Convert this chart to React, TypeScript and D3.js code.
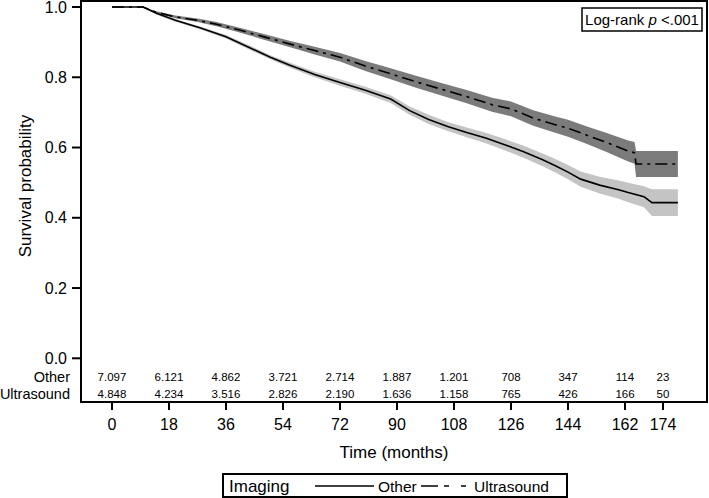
import React from "react";
import * as d3 from "d3";

// ---- data ----
const otherTime = [0, 9.8, 14, 20, 28, 36, 44, 50, 56, 64, 72, 80, 88, 94, 100, 106, 112, 118, 124, 130, 136, 140, 144, 148, 154, 160, 163, 168, 170.5, 178.7];
const otherSurv = [1, 1, 0.982, 0.962, 0.94, 0.915, 0.882, 0.857, 0.835, 0.808, 0.785, 0.763, 0.738, 0.705, 0.68, 0.66, 0.643, 0.627, 0.608, 0.588, 0.565, 0.548, 0.53, 0.51, 0.493, 0.48, 0.472, 0.46, 0.443, 0.443];
const otherLower = [1, 1, 0.979, 0.958, 0.936, 0.91, 0.876, 0.851, 0.828, 0.8, 0.776, 0.753, 0.727, 0.693, 0.667, 0.647, 0.629, 0.612, 0.592, 0.571, 0.547, 0.529, 0.51, 0.488, 0.469, 0.454, 0.444, 0.43, 0.405, 0.405];
const otherUpper = [1, 1, 0.985, 0.966, 0.944, 0.92, 0.888, 0.863, 0.842, 0.816, 0.794, 0.773, 0.749, 0.717, 0.693, 0.673, 0.657, 0.642, 0.624, 0.605, 0.583, 0.567, 0.55, 0.532, 0.517, 0.506, 0.5, 0.49, 0.481, 0.481];

const usTime = [0, 9.8, 14, 20, 27, 33, 40, 48, 56, 64, 72, 80, 88, 96, 104, 112, 120, 126, 133, 140, 144, 150, 156, 163, 165, 165.5, 178.7];
const usSurv = [1, 1, 0.985, 0.972, 0.962, 0.951, 0.935, 0.915, 0.895, 0.876, 0.857, 0.832, 0.81, 0.787, 0.766, 0.745, 0.722, 0.71, 0.684, 0.665, 0.655, 0.635, 0.615, 0.59, 0.585, 0.553, 0.553];
const usLower = [1, 1, 0.982, 0.968, 0.957, 0.945, 0.928, 0.907, 0.886, 0.865, 0.845, 0.818, 0.794, 0.77, 0.748, 0.726, 0.702, 0.689, 0.662, 0.642, 0.631, 0.61, 0.588, 0.56, 0.554, 0.516, 0.516];
const usUpper = [1, 1, 0.988, 0.976, 0.967, 0.957, 0.942, 0.923, 0.904, 0.887, 0.869, 0.846, 0.826, 0.804, 0.784, 0.764, 0.742, 0.731, 0.706, 0.688, 0.679, 0.66, 0.642, 0.62, 0.616, 0.59, 0.59];

const xTicks = [0, 18, 36, 54, 72, 90, 108, 126, 144, 162, 174];
const yTicks = [0, 0.2, 0.4, 0.6, 0.8, 1.0];
const riskOther = ["7.097", "6.121", "4.862", "3.721", "2.714", "1.887", "1.201", "708", "347", "114", "23"];
const riskUltrasound = ["4.848", "4.234", "3.516", "2.826", "2.190", "1.636", "1.158", "765", "426", "166", "50"];
const groupNames = ["Other", "Ultrasound"];

const FONT = "'Liberation Sans', Arial, Helvetica, sans-serif";

export default function App() {
  const x = d3.scaleLinear().domain([0, 174]).range([112, 663]);
  const y = d3.scaleLinear().domain([0, 1]).range([358.3, 7]);

  const mk = (t: number[], s: number[]) => t.map((v, i) => [v, s[i]] as [number, number]);
  const line = d3.line<[number, number]>().x(d => x(d[0])).y(d => y(d[1]));
  const area = (t: number[], lo: number[], hi: number[]) =>
    d3.area<number>().x(i => x(t[i])).y0(i => y(lo[i])).y1(i => y(hi[i]))(t.map((_, i) => i)) || "";

  const fL = 81, fR = 707, fT = 1, fB = 402;

  return (
    <svg width={709} height={498} style={{ position: "absolute", left: 0, top: 0, fontFamily: FONT }}>
      <rect x={0} y={0} width={709} height={498} fill="#fff" />
      {/* CI bands */}
      <path d={area(otherTime, otherLower, otherUpper)} fill="#c4c4c4" />
      <path d={area(usTime, usLower, usUpper)} fill="#7b7b7b" />
      {/* curves */}
      <path d={line(mk(otherTime, otherSurv)) || ""} fill="none" stroke="#000" strokeWidth={1.6} />
      <path d={line(mk(usTime, usSurv)) || ""} fill="none" stroke="#000" strokeWidth={1.6} strokeDasharray="12,5,3,5" />

      {/* frame */}
      <rect x={fL} y={fT} width={fR - fL} height={fB - fT} fill="none" stroke="#000" strokeWidth={2} />

      {/* y axis ticks */}
      {yTicks.map(t => (
        <g key={t}>
          <line x1={72} x2={fL} y1={y(t)} y2={y(t)} stroke="#000" strokeWidth={2} />
          <text x={67} y={y(t)} dy="0.35em" textAnchor="end" fontSize={16}>{t.toFixed(1)}</text>
        </g>
      ))}
      <text transform={`translate(31,${186}) rotate(-90)`} textAnchor="middle" fontSize={17}>Survival probability</text>

      {/* x axis ticks */}
      {xTicks.map(t => (
        <g key={t}>
          <line x1={x(t)} x2={x(t)} y1={fB} y2={410} stroke="#000" strokeWidth={2} />
          <text x={x(t)} y={430} textAnchor="middle" fontSize={16}>{t}</text>
        </g>
      ))}
      <text x={394} y={458} textAnchor="middle" fontSize={17}>Time (months)</text>

      {/* numbers at risk */}
      <text x={70} y={382} textAnchor="end" fontSize={14.5}>{groupNames[0]}</text>
      <text x={70} y={399} textAnchor="end" fontSize={14.5}>{groupNames[1]}</text>
      {xTicks.map((t, i) => (
        <g key={"r" + t}>
          <text x={x(t)} y={381} textAnchor="middle" fontSize={11.5}>{riskOther[i]}</text>
          <text x={x(t)} y={398} textAnchor="middle" fontSize={11.5}>{riskUltrasound[i]}</text>
        </g>
      ))}

      {/* log-rank box */}
      <rect x={582} y={8} width={120} height={23} fill="#fff" stroke="#000" strokeWidth={1.5} />
      <text x={642} y={25} textAnchor="middle" fontSize={15}>
        Log-rank <tspan fontStyle="italic">p</tspan> {"<.001"}
      </text>

      {/* legend */}
      <rect x={223} y={474} width={344} height={23} fill="#fff" stroke="#000" strokeWidth={2} />
      <text x={229} y={492} fontSize={17}>Imaging</text>
      <line x1={315} x2={374} y1={486} y2={486} stroke="#000" strokeWidth={1.6} />
      <text x={378} y={492} fontSize={15.5}>{groupNames[0]}</text>
      <line x1={421} x2={468} y1={486} y2={486} stroke="#000" strokeWidth={1.6} strokeDasharray="17,6,5,12,5,100" />
      <text x={474} y={492} fontSize={15.5}>{groupNames[1]}</text>
    </svg>
  );
}
